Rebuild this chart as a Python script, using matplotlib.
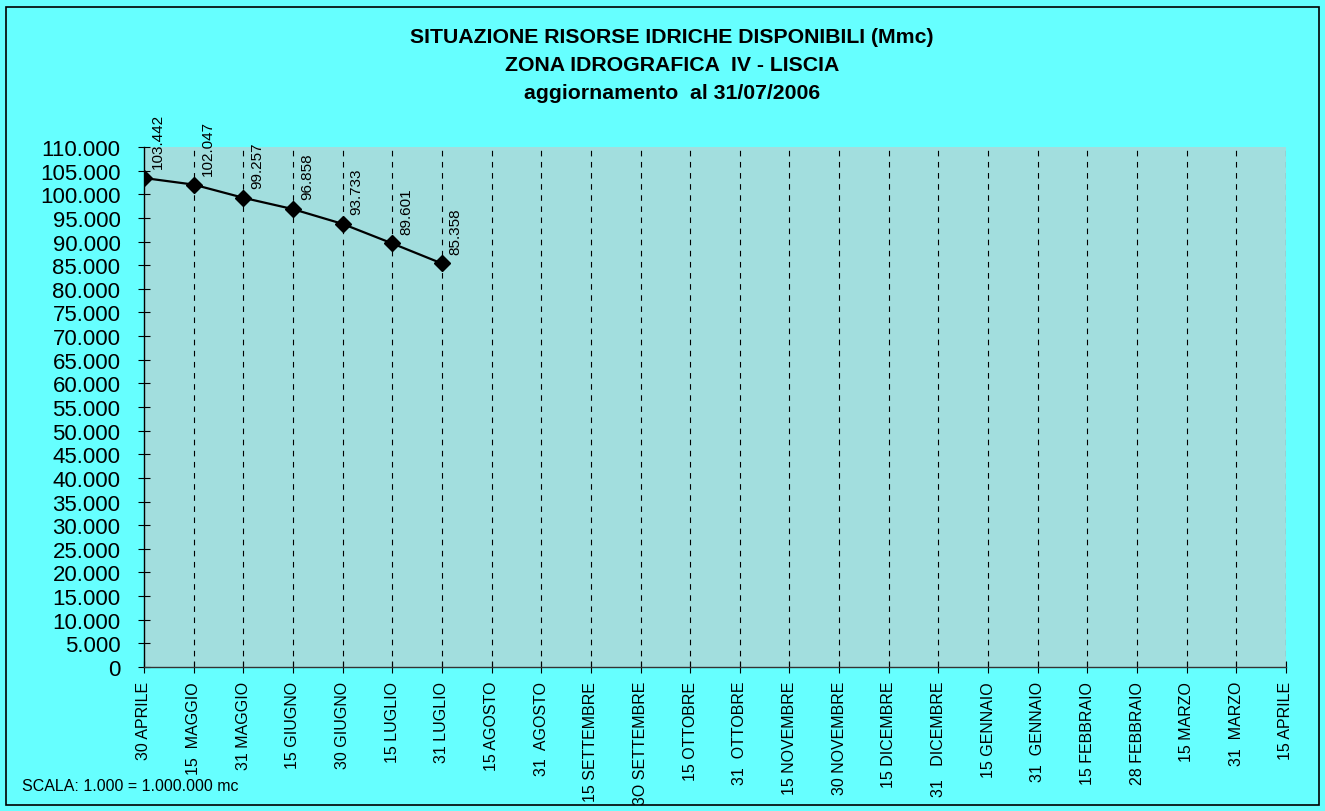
import matplotlib
matplotlib.use("Agg")
import matplotlib.pyplot as plt
from matplotlib.patches import Rectangle
from matplotlib.ticker import FuncFormatter, MultipleLocator

plt.rcParams['font.family'] = ['Liberation Sans', 'DejaVu Sans']

categories = ["30 APRILE", "15  MAGGIO", "31 MAGGIO", "15 GIUGNO", "30 GIUGNO",
              "15 LUGLIO", "31 LUGLIO", "15 AGOSTO", "31  AGOSTO", "15 SETTEMBRE",
              "3O SETTEMBRE", "15 OTTOBRE", "31  OTTOBRE", "15 NOVEMBRE", "30 NOVEMBRE",
              "15 DICEMBRE", "31   DICEMBRE", "15 GENNAIO", "31  GENNAIO", "15 FEBBRAIO",
              "28 FEBBRAIO", "15 MARZO", "31  MARZO", "15 APRILE"]
values = [103.442, 102.047, 99.257, 96.858, 93.733, 89.601, 85.358]
value_labels = ["103.442", "102.047", "99.257", "96.858", "93.733", "89.601", "85.358"]

title_lines = ["SITUAZIONE RISORSE IDRICHE DISPONIBILI (Mmc)",
               "ZONA IDROGRAFICA  IV - LISCIA",
               "aggiornamento  al 31/07/2006"]

W, H = 1325, 812
fig = plt.figure(figsize=(W / 100, H / 100), dpi=100)
fig.patch.set_facecolor('#66FFFF')
fig.patches.append(Rectangle((6 / W, 1 - 806 / H), (1319 - 6) / W, (806 - 8) / H,
                             transform=fig.transFigure, fill=False,
                             edgecolor='black', linewidth=1.2))

ax = fig.add_axes([144 / W, 1 - 668 / H, (1286 - 144) / W, (668 - 148) / H])
ax.set_facecolor('#A2DEDE')
x = list(range(len(categories)))
ax.set_xlim(0, len(categories) - 1)
ax.set_ylim(0, 110)

for xi in x[1:]:
    ax.axvline(xi, color='black', linewidth=0.8, linestyle=(0, (5, 5)), zorder=1)

ax.plot(x[:len(values)], values, color='black', linewidth=1.6, marker='D',
        markersize=8, zorder=3)
for xi, v, lab in zip(x, values, value_labels):
    ax.annotate(lab, (xi, v), xytext=(10, 7), textcoords='offset points',
                rotation=90, ha='center', va='bottom', fontsize=11)

ax.yaxis.set_major_locator(MultipleLocator(5))
ax.yaxis.set_major_formatter(FuncFormatter(lambda v, p: "0" if v == 0 else f"{v:.3f}"))
ax.set_xticks(x)
ax.set_xticklabels(categories, rotation=90, fontsize=11.5, va='top')
ax.tick_params(axis='y', labelsize=16, direction='inout', length=8, width=0.8, pad=13)
ax.tick_params(axis='x', direction='inout', length=8, width=0.8, pad=6)
for s in ['top', 'right']:
    ax.spines[s].set_visible(False)
ax.spines['left'].set_linewidth(1.0)
ax.spines['bottom'].set_linewidth(1.0)
ax.spines['bottom'].set_color('#333333')

baselines = [43, 71, 99]
for t, yy in zip(title_lines, baselines):
    fig.text(672 / W, 1 - yy / H, t, ha='center', va='baseline', fontsize=15.3,
             fontweight='bold')

fig.text(22 / W, 1 - 787 / H, "SCALA: 1.000 = 1.000.000 mc", ha='left', va='center',
         fontsize=11.5)

fig.savefig("out.png", dpi=100, facecolor=fig.get_facecolor())
